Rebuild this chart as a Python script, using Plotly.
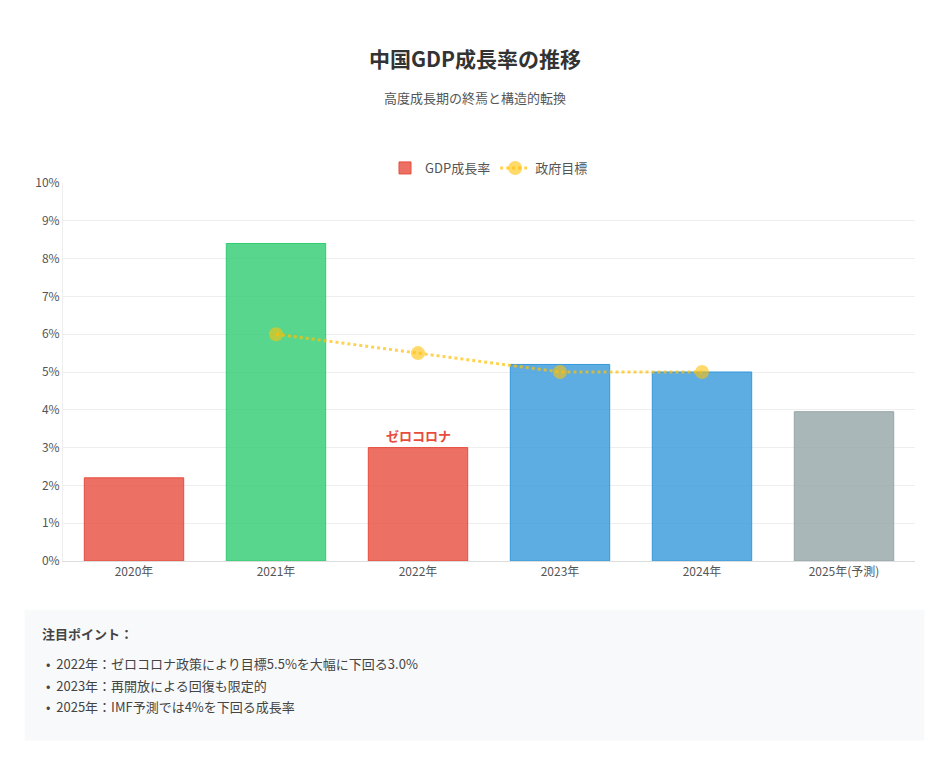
import plotly.graph_objects as go

years = ["2020年", "2021年", "2022年", "2023年", "2024年", "2025年(予測)"]
gdp = [2.2, 8.4, 3.0, 5.2, 5.0, 3.95]
bar_fill = ["rgba(231,76,60,0.8)", "rgba(46,204,113,0.8)", "rgba(231,76,60,0.8)",
            "rgba(52,152,219,0.8)", "rgba(52,152,219,0.8)", "rgba(149,165,166,0.8)"]
bar_line = ["#e74c3c", "#2ecc71", "#e74c3c", "#3498db", "#3498db", "#95a5a6"]
target_years = ["2021年", "2022年", "2023年", "2024年"]
target = [6.0, 5.5, 5.0, 5.0]
ticks = list(range(0, 11))
notes = ["2022年：ゼロコロナ政策により目標5.5%を大幅に下回る3.0%",
         "2023年：再開放による回復も限定的",
         "2025年：IMF予測では4%を下回る成長率"]

font = "Noto Sans CJK JP"
fig = go.Figure()
fig.add_bar(x=years, y=gdp, name="GDP成長率", width=0.7,
            marker=dict(color=bar_fill, line=dict(color=bar_line, width=1)))
fig.add_scatter(x=target_years, y=target, name="政府目標", mode="lines+markers",
                line=dict(color="rgba(255,193,7,0.7)", width=3, dash="dot"),
                marker=dict(size=14, color="rgba(255,193,7,0.6)"))
fig.add_annotation(x="2022年", y=3.0, text="<b>ゼロコロナ</b>", showarrow=False,
                   yshift=12, font=dict(color="#e74c3c", size=13, family=font))
fig.add_annotation(xref="paper", yref="paper", x=0.484, y=1.0, yanchor="bottom",
                   xanchor="center", yshift=108, showarrow=False,
                   text="<b>中国GDP成長率の推移</b>", font=dict(size=21, color="#333", family=font))
fig.add_annotation(xref="paper", yref="paper", x=0.484, y=1.0, yanchor="bottom",
                   xanchor="center", yshift=74, showarrow=False,
                   text="高度成長期の終焉と構造的転換", font=dict(size=13, color="#555", family=font))
fig.add_shape(type="rect", xref="paper", yref="paper", x0=-0.045, x1=1.011,
              y0=-0.475, y1=-0.129, fillcolor="#f8f9fa", line=dict(width=0), layer="below")
fig.add_annotation(xref="paper", yref="paper", x=-0.027, y=-0.222, xanchor="left",
                   showarrow=False, text="<b>注目ポイント：</b>",
                   font=dict(size=13, color="#444", family=font))
for i, n in enumerate(notes):
    fig.add_annotation(xref="paper", yref="paper", x=-0.022, y=-0.302 - i * 0.057,
                       xanchor="left", showarrow=False, text="•  " + n,
                       font=dict(size=13, color="#444", family=font))
fig.update_layout(
    width=941, height=764, margin=dict(l=55, r=34, t=175, b=211),
    paper_bgcolor="white", plot_bgcolor="white", showlegend=True,
    font=dict(family=font, color="#555", size=12),
    legend=dict(orientation="h", x=0.5, xanchor="center", y=1.0, yanchor="bottom",
                font=dict(size=13, color="#555")),
    xaxis=dict(showgrid=False, showline=True, linecolor="#ddd", ticks="", tickfont=dict(size=12)),
    yaxis=dict(range=[0, 10], tickvals=ticks, ticktext=[f"{t}%" for t in ticks],
               gridcolor="#eee", zeroline=False, showline=True, linecolor="#eee",
               tickfont=dict(size=12)),
)
fig.write_html("out.html")
